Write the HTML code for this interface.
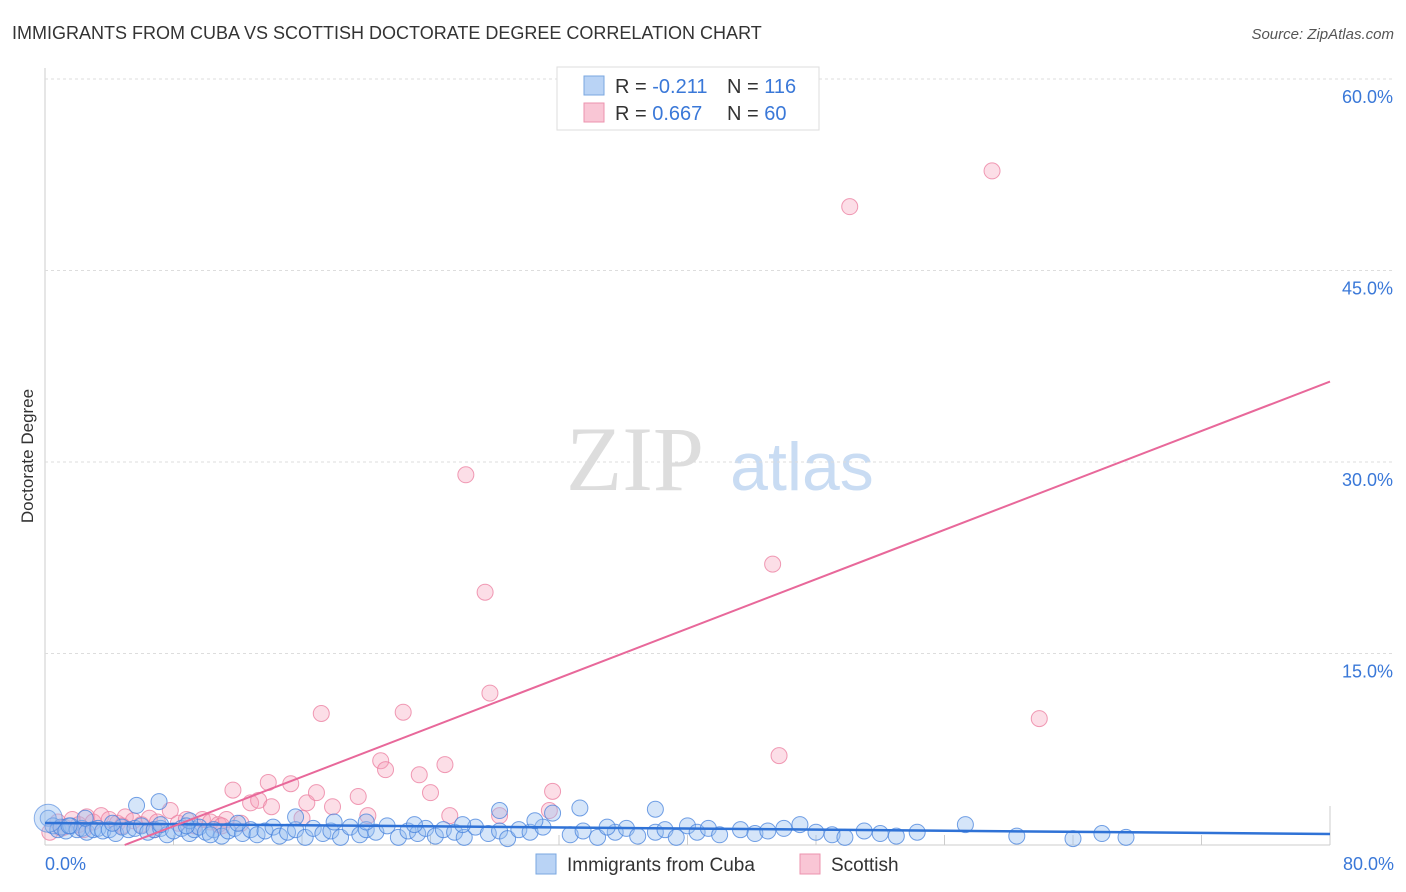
<!DOCTYPE html>
<html><head><meta charset="utf-8"><style>
body{margin:0;background:#fff;font-family:"Liberation Sans",sans-serif;}
#wrap{position:relative;width:1406px;height:892px;overflow:hidden;}
</style></head><body>
<div id="wrap">
<svg id="svg" width="1406" height="892" xmlns="http://www.w3.org/2000/svg">
<text x="12" y="39" font-size="18" fill="#333">IMMIGRANTS FROM CUBA VS SCOTTISH DOCTORATE DEGREE CORRELATION CHART</text>
<text x="1394" y="39" font-size="15" fill="#555" font-style="italic" text-anchor="end">Source: ZipAtlas.com</text>
<text x="33" y="456" font-size="17" fill="#333" text-anchor="middle" transform="rotate(-90 33 456)">Doctorate Degree</text>
<g><text x="635" y="490" font-size="92" fill="#ddd" font-family="Liberation Serif,serif" text-anchor="middle">ZIP</text><text x="802" y="490" font-size="68" fill="#c9dcf3" text-anchor="middle">atlas</text></g>
<g id="grid"></g><g id="pts"></g><g id="lines"></g>
<g>
<rect x="557" y="67" width="262" height="63" fill="#fff" stroke="#ddd"/>
<rect x="584" y="76" width="20" height="19" fill="#b9d3f5" stroke="#7aa7e0"/>
<rect x="584" y="103" width="20" height="19" fill="#f9c6d5" stroke="#ec93ae"/>
<text x="615" y="93" font-size="20" fill="#333">R = <tspan fill="#3a78d8">-0.211</tspan><tspan x="727">N = </tspan><tspan fill="#3a78d8">116</tspan></text>
<text x="615" y="120" font-size="20" fill="#333">R = <tspan fill="#3a78d8">0.667</tspan><tspan x="727">N = </tspan><tspan fill="#3a78d8"> 60</tspan></text>
</g>
<g>
<rect x="536" y="854" width="20" height="20" fill="#b9d3f5" stroke="#7aa7e0"/>
<text x="567" y="871" font-size="19" fill="#333">Immigrants from Cuba</text>
<rect x="800" y="854" width="20" height="20" fill="#f9c6d5" stroke="#ec93ae"/>
<text x="831" y="871" font-size="19" fill="#333">Scottish</text>
</g>
</svg></div>
<script>
const yTicks=[0,15,30,45,60];
const yTickLabels=["","15.0%","30.0%","45.0%","60.0%"];
const xTickLabels=["0.0%","80.0%"];
const cubaX=[0.2,0.5,0.8,1,1.3,1.6,2,2.3,2.6,3,3.3,3.6,4,4.4,4.8,5.2,5.6,6,6.4,6.8,7.2,7.6,7.2,8,8.5,9,9.3,9.6,10,10.5,11,11.4,11.8,12.3,12.8,13.2,13.7,14.2,14.6,15.1,15.6,16.2,16.7,17.3,17.8,18.4,19,19.6,20,20.6,21.3,22,22.6,23.2,23.7,24.3,24.8,25.5,26.1,26.8,27.6,28.3,28.8,29.5,30.2,31,31.6,32.7,33.5,34.4,35.5,36.2,36.9,38,38.6,39.3,40,40.6,41.3,42,43.3,44.2,45,46,47,48,49,49.8,51,52,53,54.3,57.3,60.5,64,65.8,67.3,10.3,5.7,7.1,15.6,28.3,33.3,38,2.5,12,20,26,35,1.5,4.2,9,18,23,30.5,8.8];
const cubaY=[2.1,1.5,1.2,1.4,1.1,1.5,1.2,1.3,1.0,1.2,1.3,1.1,1.2,0.9,1.4,1.2,1.3,1.5,1.0,1.2,1.3,0.8,1.6,1.1,1.3,0.9,1.2,1.4,1.0,1.2,0.7,1.1,1.3,0.9,1.2,0.8,1.1,1.4,0.7,1.0,1.2,0.6,1.3,0.9,1.1,0.6,1.4,0.8,1.2,1.0,1.5,0.6,1.1,0.9,1.3,0.7,1.2,1.0,0.6,1.4,0.9,1.1,0.5,1.2,1.0,1.4,2.5,0.8,1.1,0.6,1.0,1.3,0.7,1.0,1.2,0.6,1.5,1.0,1.3,0.8,1.2,0.9,1.1,1.3,1.6,1.0,0.8,0.6,1.1,0.9,0.7,1.0,1.6,0.7,0.5,0.9,0.6,0.8,3.1,3.4,2.2,2.7,2.9,2.8,2.1,1.7,1.8,1.6,1.4,1.5,1.7,1.9,1.8,1.6,1.9,1.5,3.6];
const scotX=[0.3,0.8,1.2,1.7,2.1,2.6,3,3.5,4,4.5,5,5.5,6,6.5,7,7.8,8.3,8.8,9.3,9.8,10.3,10.8,11.3,11.7,12.2,12.8,13.3,13.9,14.1,15.3,16.3,16.9,17.2,17.9,19.5,20.1,20.9,21.2,22.3,23.3,24,24.9,25.2,26.2,27.4,27.7,28.3,31.4,31.6,45.3,45.7,50.1,58.96,61.9,1,2.4,4.8,6.8,11,16];
const scotY=[1.0,1.8,1.4,2.0,1.6,2.2,1.8,2.3,2.0,1.7,2.2,1.9,1.6,2.1,1.8,2.7,1.7,2.0,1.5,2.0,1.8,1.6,2.0,4.3,1.7,3.3,3.5,4.9,3.0,4.8,3.3,4.1,10.3,3.0,3.8,2.3,6.6,5.9,10.4,5.5,4.1,6.3,2.3,29.0,19.8,11.9,2.3,2.7,4.2,22.0,7.0,50.0,52.8,9.9,1.3,1.2,1.5,1.2,1.5,2.1];
const cubaTrend=[1.72,0.86];
const scotTrend=[-2.40,36.3];
const X0=45,X1=1330,Y0=845,PY=766/60;
const xs=v=>X0+v/80*(X1-X0), ys=v=>Y0-v*PY;
const NS="http://www.w3.org/2000/svg";
function mk(t,a,p){const e=document.createElementNS(NS,t);for(const k in a)e.setAttribute(k,a[k]);p.appendChild(e);return e;}
const grid=document.getElementById('grid');
mk('line',{x1:X0,y1:68,x2:X0,y2:Y0,stroke:'#ccc'},grid);
mk('line',{x1:X0,y1:Y0,x2:X1,y2:Y0,stroke:'#ccc'},grid);
for(let i=1;i<=10;i++){mk('line',{x1:xs(i*8),y1:i==10?806:Y0-10,x2:xs(i*8),y2:Y0,stroke:'#ccc'},grid);}
yTicks.forEach((t,i)=>{if(t>0){const g=mk('line',{x1:X0,y1:ys(t),x2:1394,y2:ys(t),stroke:'#ddd','stroke-dasharray':'3,3'},grid);
const tx=mk('text',{x:1393,y:ys(t)+24,'font-size':18,fill:'#3a78d8','text-anchor':'end'},grid);tx.textContent=yTickLabels[i];}});
[[0,'start',45],[80,'end',1394]].forEach((d,i)=>{const tx=mk('text',{x:d[2],y:870,'font-size':18,fill:'#3a78d8','text-anchor':d[1]},grid);tx.textContent=xTickLabels[i];});
const pts=document.getElementById('pts');
const nS=Math.min(scotX.length,scotY.length), nC=Math.min(cubaX.length,cubaY.length);
for(let i=0;i<nS;i++){const c=mk('circle',{cx:xs(scotX[i]),cy:ys(scotY[i]),r:8,fill:'rgba(246,160,186,0.35)',stroke:'rgba(236,130,162,0.8)','stroke-width':1},pts);

}
for(let i=0;i<nC;i++){const c=mk('circle',{cx:xs(cubaX[i]),cy:ys(cubaY[i]),r:8,fill:'rgba(150,190,240,0.4)',stroke:'rgba(70,130,220,0.75)','stroke-width':1},pts);

}
const big=mk('circle',{cx:xs(0.2),cy:ys(2.1),r:14,fill:'rgba(150,190,240,0.4)',stroke:'rgba(70,130,220,0.6)'},pts);


const L=document.getElementById('lines');
const l1=mk('line',{x1:xs(0),y1:ys(cubaTrend[0]),x2:xs(80),y2:ys(cubaTrend[1]),stroke:'#2f72d6','stroke-width':2.5},L);


const sl=(scotTrend[1]-scotTrend[0])/80, x0=Math.max(0,-scotTrend[0]/sl);
const l2=mk('line',{x1:xs(x0),y1:ys(scotTrend[0]+x0*sl),x2:xs(80),y2:ys(scotTrend[1]),stroke:'#e8689a','stroke-width':2},L);


</script>
</body></html>
